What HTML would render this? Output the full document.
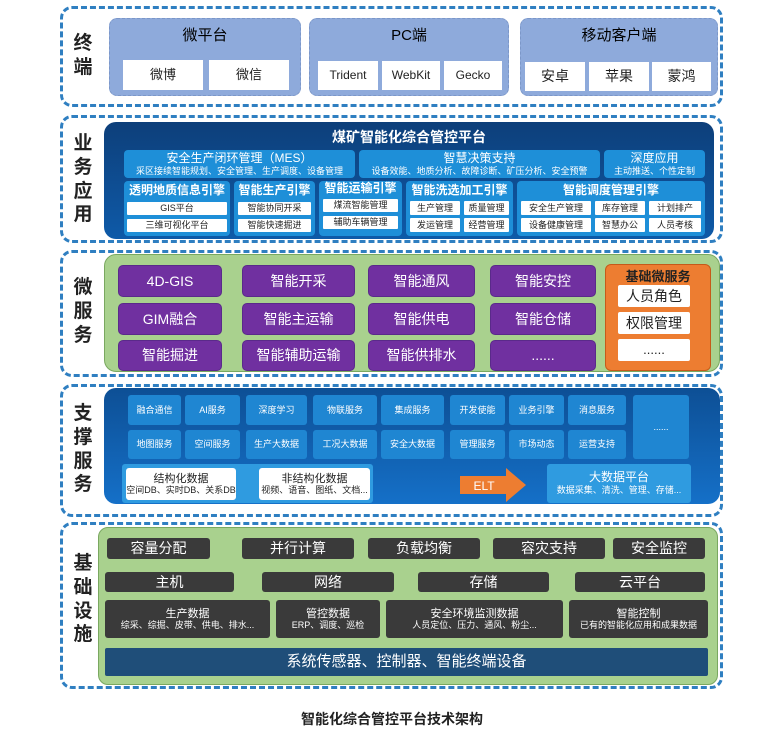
<!DOCTYPE html><html><head><meta charset="utf-8"><style>
*{margin:0;padding:0;box-sizing:border-box}
body{width:784px;height:737px;background:#fff;position:relative;overflow:hidden;font-family:"Liberation Sans","Noto Sans CJK SC",sans-serif}
.a{position:absolute;display:flex;align-items:center;justify-content:center;text-align:center;flex-direction:column;line-height:1.15}
.o{position:absolute;border:3px dashed #2f7fc1;border-radius:12px}
.lab{position:absolute;font-weight:bold;font-size:19px;color:#222;width:30px;text-align:center;line-height:1.25;left:68px}
.g{background:#8eaadb;border-radius:8px;border:1px dashed #7c97c8}
.w{background:#fff;font-size:13px;color:#222}
.lb{background:#1e8fd8;color:#fff;border-radius:4px}
.wb{background:#fff;color:#222;font-size:9px;border-radius:1px}
.pu{background:#7030a0;color:#fff;font-size:14px;border-radius:5px;border:1px solid #5a2a8a}
.sb{background:#1f86d2;color:#fff;font-size:9px;border-radius:3px}
.dk{background:#3a3a3a;color:#fff;border-radius:3px;font-size:14px}
</style></head><body>
<!-- layer 1 -->
<div class="o" style="left:60px;top:6px;width:663px;height:101px"></div>
<div class="lab" style="top:32px">终<br>端</div>
<div class="a g" style="left:109px;top:18px;width:192px;height:78px;justify-content:flex-start;padding-top:8px;font-size:15px">微平台</div>
<div class="a g" style="left:309px;top:18px;width:200px;height:78px;justify-content:flex-start;padding-top:8px;font-size:15px">PC端</div>
<div class="a g" style="left:520px;top:18px;width:198px;height:78px;justify-content:flex-start;padding-top:8px;font-size:15px">移动客户端</div>
<div class="a w" style="left:123px;top:60px;width:80px;height:30px">微博</div>
<div class="a w" style="left:209px;top:60px;width:80px;height:30px">微信</div>
<div class="a w" style="left:318px;top:61px;width:60px;height:29px;font-size:12px">Trident</div>
<div class="a w" style="left:382px;top:61px;width:58px;height:29px;font-size:12px">WebKit</div>
<div class="a w" style="left:444px;top:61px;width:58px;height:29px;font-size:12px">Gecko</div>
<div class="a w" style="left:525px;top:62px;width:60px;height:29px;font-size:14px">安卓</div>
<div class="a w" style="left:589px;top:62px;width:60px;height:29px;font-size:14px">苹果</div>
<div class="a w" style="left:652px;top:62px;width:59px;height:29px;font-size:14px">蒙鸿</div>
<!-- layer 2 -->
<div class="o" style="left:60px;top:115px;width:663px;height:128px"></div>
<div class="lab" style="top:132px">业<br>务<br>应<br>用</div>
<div class="a" style="left:104px;top:122px;width:610px;height:117px;background:linear-gradient(#0d3f7a,#0e5aa8);border-radius:12px"></div>
<div class="a" style="left:104px;top:128px;width:610px;height:18px;color:#fff;font-weight:bold;font-size:14px">煤矿智能化综合管控平台</div>
<div class="a lb" style="left:124px;top:150px;width:231px;height:28px;font-size:12px">安全生产闭环管理（MES）<span style="font-size:9px">采区接续智能规划、安全管理、生产调度、设备管理</span></div>
<div class="a lb" style="left:359px;top:150px;width:241px;height:28px;font-size:12px">智慧决策支持<span style="font-size:9px">设备效能、地质分析、故障诊断、矿压分析、安全预警</span></div>
<div class="a lb" style="left:604px;top:150px;width:101px;height:28px;font-size:12px">深度应用<span style="font-size:9px">主动推送、个性定制</span></div>
<div class="a lb" style="left:124px;top:181px;width:106px;height:55px;justify-content:flex-start;padding-top:3px;font-size:12px;font-weight:bold">透明地质信息引擎</div>
<div class="a lb" style="left:234px;top:181px;width:81px;height:55px;justify-content:flex-start;padding-top:3px;font-size:12px;font-weight:bold">智能生产引擎</div>
<div class="a lb" style="left:319px;top:181px;width:83px;height:55px;justify-content:flex-start;padding-top:1px;font-size:12px;font-weight:bold">智能运输引擎</div>
<div class="a lb" style="left:406px;top:181px;width:107px;height:55px;justify-content:flex-start;padding-top:3px;font-size:12px;font-weight:bold">智能洗选加工引擎</div>
<div class="a lb" style="left:517px;top:181px;width:188px;height:55px;justify-content:flex-start;padding-top:3px;font-size:12px;font-weight:bold">智能调度管理引擎</div>
<div class="a wb" style="left:127px;top:202px;width:100px;height:13px">GIS平台</div>
<div class="a wb" style="left:127px;top:219px;width:100px;height:13px">三维可视化平台</div>
<div class="a wb" style="left:238px;top:202px;width:73px;height:13px">智能协同开采</div>
<div class="a wb" style="left:238px;top:219px;width:73px;height:13px">智能快速掘进</div>
<div class="a wb" style="left:323px;top:199px;width:75px;height:13px">煤流智能管理</div>
<div class="a wb" style="left:323px;top:216px;width:75px;height:13px">辅助车辆管理</div>
<div class="a wb" style="left:410px;top:201px;width:50px;height:14px">生产管理</div>
<div class="a wb" style="left:464px;top:201px;width:45px;height:14px">质量管理</div>
<div class="a wb" style="left:410px;top:218px;width:50px;height:14px">发运管理</div>
<div class="a wb" style="left:464px;top:218px;width:45px;height:14px">经营管理</div>
<div class="a wb" style="left:521px;top:201px;width:70px;height:14px">安全生产管理</div>
<div class="a wb" style="left:595px;top:201px;width:50px;height:14px">库存管理</div>
<div class="a wb" style="left:649px;top:201px;width:52px;height:14px">计划排产</div>
<div class="a wb" style="left:521px;top:218px;width:70px;height:14px">设备健康管理</div>
<div class="a wb" style="left:595px;top:218px;width:50px;height:14px">智慧办公</div>
<div class="a wb" style="left:649px;top:218px;width:52px;height:14px">人员考核</div>
<!-- layer 3 -->
<div class="o" style="left:60px;top:250px;width:663px;height:127px"></div>
<div class="lab" style="top:276px">微<br>服<br>务</div>
<div class="a" style="left:104px;top:254px;width:616px;height:118px;background:#a9d18e;border:1px solid #7aa860;border-radius:12px"></div>
<div class="a pu" style="left:118px;top:265px;width:104px;height:32px">4D-GIS</div>
<div class="a pu" style="left:118px;top:303px;width:104px;height:32px">GIM融合</div>
<div class="a pu" style="left:118px;top:340px;width:104px;height:31px">智能掘进</div>
<div class="a pu" style="left:242px;top:265px;width:113px;height:32px">智能开采</div>
<div class="a pu" style="left:242px;top:303px;width:113px;height:32px">智能主运输</div>
<div class="a pu" style="left:242px;top:340px;width:113px;height:31px">智能辅助运输</div>
<div class="a pu" style="left:368px;top:265px;width:107px;height:32px">智能通风</div>
<div class="a pu" style="left:368px;top:303px;width:107px;height:32px">智能供电</div>
<div class="a pu" style="left:368px;top:340px;width:107px;height:31px">智能供排水</div>
<div class="a pu" style="left:490px;top:265px;width:106px;height:32px">智能安控</div>
<div class="a pu" style="left:490px;top:303px;width:106px;height:32px">智能仓储</div>
<div class="a pu" style="left:490px;top:340px;width:106px;height:31px">......</div>
<div class="a" style="left:605px;top:264px;width:106px;height:107px;background:#ed7d31;border-radius:6px;border:1px solid #c55a1a;justify-content:flex-start;padding-top:5px;font-size:13px;font-weight:bold;color:#222">基础微服务</div>
<div class="a w" style="left:618px;top:285px;width:72px;height:22px;border-radius:2px;font-size:14px">人员角色</div>
<div class="a w" style="left:618px;top:312px;width:72px;height:22px;border-radius:2px;font-size:14px">权限管理</div>
<div class="a w" style="left:618px;top:339px;width:72px;height:22px;border-radius:2px">......</div>
<!-- layer 4 -->
<div class="o" style="left:60px;top:384px;width:663px;height:133px"></div>
<div class="lab" style="top:402px">支<br>撑<br>服<br>务</div>
<div class="a" style="left:104px;top:388px;width:616px;height:116px;background:linear-gradient(#0d4f95,#1570c8);border-radius:12px"></div>
<div class="a sb" style="left:128px;top:395px;width:53px;height:30px">融合通信</div>
<div class="a sb" style="left:185px;top:395px;width:55px;height:30px">AI服务</div>
<div class="a sb" style="left:246px;top:395px;width:61px;height:30px">深度学习</div>
<div class="a sb" style="left:313px;top:395px;width:64px;height:30px">物联服务</div>
<div class="a sb" style="left:381px;top:395px;width:63px;height:30px">集成服务</div>
<div class="a sb" style="left:450px;top:395px;width:55px;height:30px">开发使能</div>
<div class="a sb" style="left:509px;top:395px;width:55px;height:30px">业务引擎</div>
<div class="a sb" style="left:568px;top:395px;width:58px;height:30px">消息服务</div>
<div class="a sb" style="left:128px;top:430px;width:53px;height:29px">地图服务</div>
<div class="a sb" style="left:185px;top:430px;width:55px;height:29px">空间服务</div>
<div class="a sb" style="left:246px;top:430px;width:61px;height:29px">生产大数据</div>
<div class="a sb" style="left:313px;top:430px;width:64px;height:29px">工况大数据</div>
<div class="a sb" style="left:381px;top:430px;width:63px;height:29px">安全大数据</div>
<div class="a sb" style="left:450px;top:430px;width:55px;height:29px">管理服务</div>
<div class="a sb" style="left:509px;top:430px;width:55px;height:29px">市场动态</div>
<div class="a sb" style="left:568px;top:430px;width:58px;height:29px">运营支持</div>
<div class="a sb" style="left:633px;top:395px;width:56px;height:64px">......</div>
<div class="a" style="left:122px;top:464px;width:251px;height:39px;background:#2f9be0;border-radius:3px"></div>
<div class="a" style="left:126px;top:468px;width:110px;height:32px;background:#fff;border-radius:3px;font-size:11px;color:#222">结构化数据<span style="font-size:9px">空间DB、实时DB、关系DB</span></div>
<div class="a" style="left:259px;top:468px;width:111px;height:32px;background:#fff;border-radius:3px;font-size:11px;color:#222">非结构化数据<span style="font-size:9px">视频、语音、图纸、文档...</span></div>
<svg style="position:absolute;left:460px;top:468px" width="68" height="34"><polygon points="0,8 46,8 46,0 66,17 46,34 46,26 0,26" fill="#ed7d31"/><text x="24" y="22" fill="#fff" font-size="12" text-anchor="middle" font-family="Liberation Sans">ELT</text></svg>
<div class="a" style="left:547px;top:464px;width:144px;height:39px;background:#2f9be0;border-radius:3px;color:#fff;font-size:12px">大数据平台<span style="font-size:9px">数据采集、清洗、管理、存储...</span></div>
<!-- layer 5 -->
<div class="o" style="left:60px;top:522px;width:663px;height:167px"></div>
<div class="lab" style="top:552px">基<br>础<br>设<br>施</div>
<div class="a" style="left:98px;top:527px;width:620px;height:158px;background:#a9d18e;border:1px solid #7aa860;border-radius:10px"></div>
<div class="a dk" style="left:107px;top:538px;width:103px;height:21px">容量分配</div>
<div class="a dk" style="left:242px;top:538px;width:112px;height:21px">并行计算</div>
<div class="a dk" style="left:368px;top:538px;width:112px;height:21px">负载均衡</div>
<div class="a dk" style="left:493px;top:538px;width:112px;height:21px">容灾支持</div>
<div class="a dk" style="left:613px;top:538px;width:92px;height:21px">安全监控</div>
<div class="a dk" style="left:105px;top:572px;width:129px;height:20px">主机</div>
<div class="a dk" style="left:262px;top:572px;width:132px;height:20px">网络</div>
<div class="a dk" style="left:418px;top:572px;width:131px;height:20px">存储</div>
<div class="a dk" style="left:575px;top:572px;width:130px;height:20px">云平台</div>
<div class="a dk" style="left:105px;top:600px;width:165px;height:38px;font-size:11px">生产数据<span style="font-size:9px">综采、综掘、皮带、供电、排水...</span></div>
<div class="a dk" style="left:276px;top:600px;width:104px;height:38px;font-size:11px">管控数据<span style="font-size:9px">ERP、调度、巡检</span></div>
<div class="a dk" style="left:386px;top:600px;width:177px;height:38px;font-size:11px">安全环境监测数据<span style="font-size:9px">人员定位、压力、通风、粉尘...</span></div>
<div class="a dk" style="left:569px;top:600px;width:139px;height:38px;font-size:11px">智能控制<span style="font-size:9px">已有的智能化应用和成果数据</span></div>
<div class="a" style="left:105px;top:648px;width:603px;height:28px;background:#1f4e79;color:#fff;font-size:15px;border-radius:2px">系统传感器、控制器、智能终端设备</div>
<div class="a" style="left:0;top:709px;width:784px;height:20px;font-size:14px;font-weight:bold;color:#222">智能化综合管控平台技术架构</div>
</body></html>
